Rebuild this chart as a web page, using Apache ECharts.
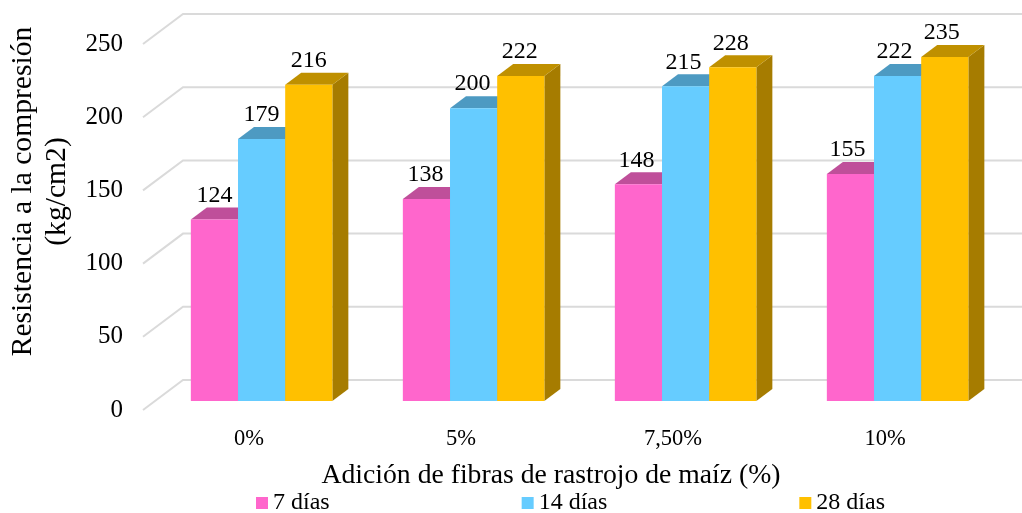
<!DOCTYPE html>
<html>
<head>
<meta charset="utf-8">
<style>
  html, body { margin: 0; padding: 0; background: #fff; }
  #chart { width: 1022px; height: 513px; }
</style>
<script src="https://cdn.jsdelivr.net/npm/echarts@6/dist/echarts.min.js"></script>
</head>
<body>
<div id="chart"></div>
<script>
const categories = ['0%', '5%', '7,50%', '10%'];
const dias7 = [124, 138, 148, 155];
const dias14 = [179, 200, 215, 222];
const dias28 = [216, 222, 228, 235];
const yTicks = [0, 50, 100, 150, 200, 250];

const font = '"Liberation Serif", "Times New Roman", serif';
const wallShift = [40, -30];   // front plane -> back wall
const barShift = [12.6, -9];   // front plane -> front of the bars
const barDepth = [16, -12];
const barRatio = 0.2225;

function gridLine(params, api) {
  const y = api.coord([0, api.value(0)])[1];
  const x0 = params.coordSys.x;
  return {
    type: 'polyline',
    silent: true,
    shape: { points: [[x0, y], [x0 + wallShift[0], y + wallShift[1]], [1030, y + wallShift[1]]] },
    style: { fill: null, stroke: '#DADADA', lineWidth: 2 }
  };
}

function bar3d(k, front, top, side) {
  return function (params, api) {
    const i = api.value(0);
    const p = api.coord([i, api.value(1)]);
    const base = api.coord([i, 0]);
    const w = api.size([1, 0])[0] * barRatio;
    const x0 = p[0] + barShift[0] + (k - 1.5) * w;
    const x1 = x0 + w;
    const yt = p[1] + barShift[1];
    const yb = base[1] + barShift[1];
    const dx = barDepth[0], dy = barDepth[1];
    return {
      type: 'group',
      children: [
        { type: 'polygon', shape: { points: [[x1, yt], [x1 + dx, yt + dy], [x1 + dx, yb + dy], [x1, yb]] }, style: { fill: side } },
        { type: 'polygon', shape: { points: [[x0, yt], [x0 + dx, yt + dy], [x1 + dx, yt + dy], [x1, yt]] }, style: { fill: top } },
        { type: 'rect', shape: { x: x0, y: yt, width: w, height: yb - yt }, style: { fill: front } },
        {
          type: 'text',
          style: {
            // labels drift a little to the left from group to group
            text: String(api.value(1)), x: x0 + w / 2 - i, y: yt - 24,
            align: 'center', verticalAlign: 'middle',
            font: '24px ' + font, fill: '#000'
          }
        }
      ]
    };
  };
}

function barSeries(name, values, k, front, top, side) {
  return {
    name: name,
    type: 'custom',
    clip: false,
    z: 3,
    itemStyle: { color: front },
    renderItem: bar3d(k, front, top, side),
    encode: { x: 0, y: 1 },
    data: values.map((v, i) => [i, v])
  };
}

const myChart = echarts.init(document.getElementById('chart'), null, { renderer: 'canvas' });
myChart.setOption({
  animation: false,
  backgroundColor: '#fff',
  grid: { left: 143, top: 44, width: 848, height: 366 },
  xAxis: {
    type: 'category',
    data: categories,
    axisLine: { show: false },
    axisTick: { show: false },
    splitLine: { show: false },
    axisLabel: { margin: 18, fontFamily: font, fontSize: 22.5, color: '#000' }
  },
  yAxis: {
    type: 'value',
    min: 0,
    max: 250,
    interval: 50,
    axisLine: { show: false },
    axisTick: { show: false },
    splitLine: { show: false },
    axisLabel: { margin: 20, fontFamily: font, fontSize: 25, color: '#000' }
  },
  legend: {
    data: ['7 días', '14 días', '28 días'],
    left: 251,
    top: 486,
    icon: 'rect',
    itemWidth: 12,
    itemHeight: 12,
    itemGap: 192,
    textStyle: { fontFamily: font, fontSize: 24, color: '#000' }
  },
  graphic: [
    {
      type: 'text', x: 23, y: 191.5, rotation: Math.PI / 2,
      style: { text: 'Resistencia a la compresión', font: '29.6px ' + font, fill: '#000', align: 'center', verticalAlign: 'middle' }
    },
    {
      type: 'text', x: 57, y: 191.5, rotation: Math.PI / 2,
      style: { text: '(kg/cm2)', font: '29.6px ' + font, fill: '#000', align: 'center', verticalAlign: 'middle' }
    },
    {
      type: 'text', x: 551, y: 476,
      style: { text: 'Adición de fibras de rastrojo de maíz (%)', font: '27.7px ' + font, fill: '#000', align: 'center', verticalAlign: 'middle' }
    }
  ],
  series: [
    {
      type: 'custom',
      clip: false,
      silent: true,
      z: 1,
      renderItem: gridLine,
      encode: { y: 0 },
      data: yTicks.map(v => [v])
    },
    barSeries('7 días', dias7, 0, '#FF66CC', '#BF4F9A', '#BF4F9A'),
    barSeries('14 días', dias14, 1, '#66CCFF', '#4D9AC2', '#4D9AC2'),
    barSeries('28 días', dias28, 2, '#FFC000', '#BF9000', '#A67C00')
  ]
});
</script>
</body>
</html>
